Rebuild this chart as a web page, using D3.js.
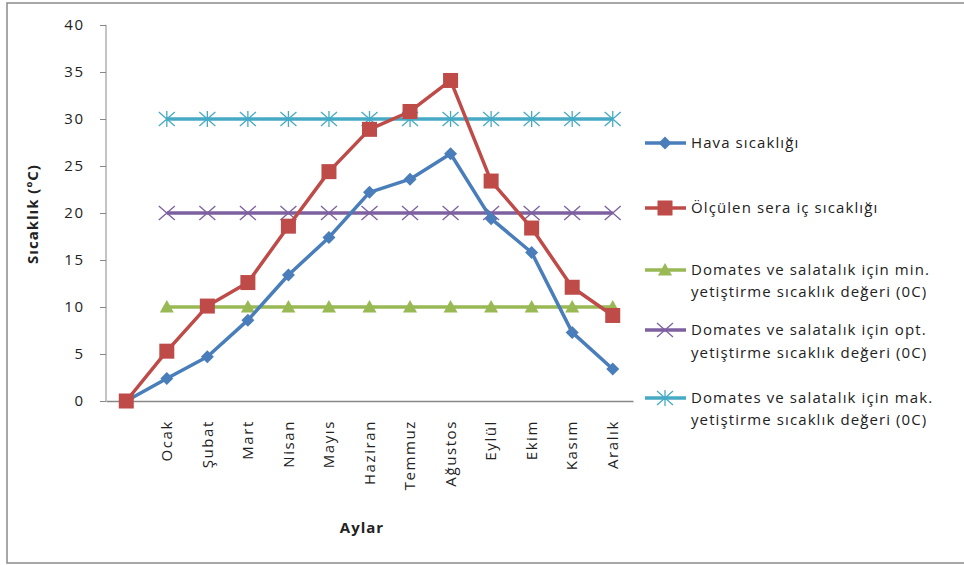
<!DOCTYPE html>
<html><head><meta charset="utf-8">
<script src="https://cdn.jsdelivr.net/npm/d3@7"></script>
<style>body{margin:0;background:#fff}svg{display:block}text{font-family:"Open Sans","Liberation Sans",sans-serif}</style>
</head><body><svg id="c" width="964" height="565"></svg>
<script>
const categories = ["", "Ocak", "Şubat", "Mart", "Nisan", "Mayıs", "Haziran", "Temmuz", "Ağustos", "Eylül", "Ekim", "Kasım", "Aralık"];
const hava = [0, 2.4, 4.7, 8.6, 13.4, 17.4, 22.2, 23.6, 26.3, 19.4, 15.8, 7.3, 3.4];
const sera = [0, 5.3, 10.1, 12.6, 18.6, 24.4, 28.9, 30.8, 34.1, 23.4, 18.4, 12.1, 9.1];
const minV = [null, 10, 10, 10, 10, 10, 10, 10, 10, 10, 10, 10, 10];
const optV = [null, 20, 20, 20, 20, 20, 20, 20, 20, 20, 20, 20, 20];
const makV = [null, 30, 30, 30, 30, 30, 30, 30, 30, 30, 30, 30, 30];
const yTicks = [0, 5, 10, 15, 20, 25, 30, 35, 40];
const seriesNames = [
  ["Hava sıcaklığı"],
  ["Ölçülen sera iç sıcaklığı"],
  ["Domates ve salatalık için min.", "yetiştirme sıcaklık değeri (0C)"],
  ["Domates ve salatalık için opt.", "yetiştirme sıcaklık değeri (0C)"],
  ["Domates ve salatalık için mak.", "yetiştirme sıcaklık değeri (0C)"]
];

const svg = d3.select("#c");
svg.append("rect").attr("x", 7).attr("y", 3).attr("width", 970).attr("height", 560)
  .attr("fill", "#fff").attr("stroke", "#8a8a8a").attr("stroke-width", 1.5);

const L = 106, R = 633, T = 25, B = 401;
const x = d3.scaleBand().domain(categories.map((c, i) => i)).range([L, R]);
const cx = i => x(i) + x.bandwidth() / 2;
const y = d3.scaleLinear().domain([0, 40]).range([B, T]);

// y axis
const ya = svg.append("g").attr("transform", `translate(${L},0)`)
  .call(d3.axisLeft(y).tickValues(yTicks).tickSize(6).tickPadding(15));
ya.select(".domain").attr("stroke", "#888").attr("d", `M-0.5,${T}H0V${B}`);
ya.selectAll(".tick line").attr("stroke", "#888");
ya.selectAll("text").attr("font-size", 15).attr("letter-spacing", 1.8).attr("fill", "#222");

// x axis
const xa = svg.append("g").attr("transform", `translate(0,${B})`)
  .call(d3.axisBottom(x).tickSize(0).tickFormat(i => categories[i]));
xa.select(".domain").attr("stroke", "#888").attr("stroke-width", 1.5);
xa.selectAll("text").attr("font-size", 15).attr("letter-spacing", 1.6).attr("fill", "#222")
  .attr("transform", "rotate(-90)").attr("text-anchor", "end")
  .attr("x", -19).attr("y", 0).attr("dy", "0.35em");

svg.append("text").attr("transform", `translate(38,214) rotate(-90)`)
  .attr("text-anchor", "middle").attr("font-size", 15).attr("letter-spacing", 1).attr("font-weight", "bold").attr("fill", "#222")
  .text("Sıcaklık  (ºC)");
svg.append("text").attr("x", 362).attr("y", 533).attr("text-anchor", "middle")
  .attr("font-size", 15).attr("letter-spacing", 1).attr("font-weight", "bold").attr("fill", "#222").text("Aylar");

const colors = ["#4a7ebb", "#be4b48", "#98b954", "#7d60a0", "#46aac5"];
const data = [hava, sera, minV, optV, makV];

function marker(g, k, px, py) {
  const c = colors[k];
  if (k === 0) g.append("path").attr("d", `M${px},${py-6.5}L${px+6.5},${py}L${px},${py+6.5}L${px-6.5},${py}Z`).attr("fill", c);
  else if (k === 1) g.append("rect").attr("x", px-7.5).attr("y", py-7.5).attr("width", 15).attr("height", 15).attr("fill", c);
  else if (k === 2) g.append("path").attr("d", `M${px},${py-7}L${px+7},${py+5.5}L${px-7},${py+5.5}Z`).attr("fill", c);
  else if (k === 3) g.append("path").attr("d", `M${px-8},${py-7}L${px+8},${py+7}M${px-8},${py+7}L${px+8},${py-7}`).attr("stroke", c).attr("stroke-width", 1.3).attr("fill", "none");
  else g.append("path").attr("d", `M${px-8},${py-7}L${px+8},${py+7}M${px-8},${py+7}L${px+8},${py-7}M${px},${py-8}V${py+8}`).attr("stroke", c).attr("stroke-width", 1.3).attr("fill", "none");
}

const line = d3.line().defined(d => d != null).x((d, i) => cx(i)).y(d => y(d));
const order = [2, 3, 4, 0, 1];
order.forEach(k => {
  const g = svg.append("g");
  g.append("path").datum(data[k]).attr("d", line).attr("fill", "none")
    .attr("stroke", colors[k]).attr("stroke-width", 3.5).attr("stroke-linejoin", "round");
  data[k].forEach((v, i) => { if (v != null) marker(g, k, cx(i), y(v)); });
});

// legend
const ly = [[143], [208], [270, 292], [330, 353], [398, 420]];
seriesNames.forEach((names, k) => {
  const g = svg.append("g");
  const yy = ly[k][0];
  g.append("line").attr("x1", 645).attr("x2", 686).attr("y1", yy).attr("y2", yy)
    .attr("stroke", colors[k]).attr("stroke-width", 3.5);
  marker(g, k, 665, yy);
  names.forEach((t, j) => {
    g.append("text").attr("x", 691).attr("y", ly[k][j]).attr("dy", "0.35em")
      .attr("font-size", 15).attr("letter-spacing", 1.1).attr("fill", "#222").text(t);
  });
});
</script></body></html>
